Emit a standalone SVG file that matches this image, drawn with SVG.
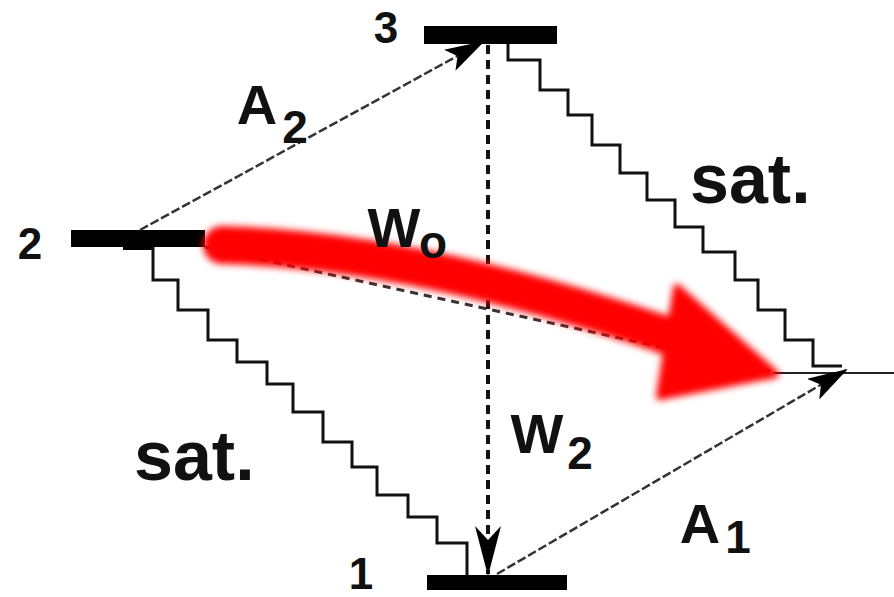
<svg xmlns="http://www.w3.org/2000/svg" width="894" height="597" viewBox="0 0 894 597">
<style>
.bar{fill:#000}
.lbl{font-family:"Liberation Sans",Arial,sans-serif;font-weight:bold;fill:#111;text-anchor:middle}
.big{font-size:56px}
.sub{font-size:46px}
.num{font-size:44px}
.sat{font-size:70px;text-anchor:start}
.stair{fill:none;stroke:#111;stroke-width:3;stroke-linejoin:miter}
.thin{fill:none;stroke:#333;stroke-width:2.5;stroke-dasharray:9 3}
.vdash{fill:none;stroke:#111;stroke-width:4;stroke-dasharray:9 6}
</style>
<defs>
<marker id="ah" viewBox="0 0 40 24" refX="38" refY="12" markerWidth="40" markerHeight="24" markerUnits="userSpaceOnUse" orient="auto">
<path d="M0,0 L40,12 L0,24 L9,12 z" fill="#000"/>
</marker>
<marker id="ahv" viewBox="0 0 50 26" refX="48" refY="13" markerWidth="50" markerHeight="26" markerUnits="userSpaceOnUse" orient="auto">
<path d="M0,0 L50,13 L0,26 L14,13 z" fill="#000"/>
</marker>
<filter id="soft" x="-10%" y="-30%" width="120%" height="160%">
<feGaussianBlur stdDeviation="3.5"/>
</filter>
</defs>
<rect width="894" height="597" fill="#fff"/>

<g id="level3">
<rect class="bar" x="424" y="26" width="133" height="18"/>
<text class="lbl num" x="386" y="43">3</text>
</g>
<g id="level2">
<rect class="bar" x="71" y="230" width="134" height="17"/>
<rect class="bar" x="123" y="233" width="30" height="17"/>
<text class="lbl num" x="30" y="259">2</text>
</g>
<g id="level1">
<rect class="bar" x="427" y="575" width="140" height="15"/>
<text class="lbl num" x="361" y="589">1</text>
</g>
<g id="level-ground">
<line x1="773" y1="373" x2="894" y2="373" stroke="#222" stroke-width="2"/>
</g>

<g id="connectors">
<path class="stair" d="M153,247 V280 H178 V310 H208 V340 H237 V362 H267 V384 H293 V412 H323 V442 H352 V467 H377 V495 H408 V517 H437 V543 H467 V576"/>
<path class="stair" d="M508,44 V60 H540 V90 H568 V115 H592 V145 H620 V173 H647 V200 H675 V227 H703 V252 H735 V280 H758 V310 H785 V340 H813 V366 H842"/>
<line class="thin" x1="140" y1="230" x2="483" y2="42" marker-end="url(#ah)"/>
<line class="thin" x1="497" y1="574" x2="846" y2="370" marker-end="url(#ah)"/>
<line class="vdash" x1="488" y1="45" x2="488" y2="574" marker-end="url(#ahv)"/>
<line x1="205" y1="247" x2="770" y2="371" stroke="#333" stroke-width="3" stroke-dasharray="8 6"/>
</g>

<g id="red-arrow" filter="url(#soft)">
<path d="M222,245 Q420,250 680,340" fill="none" stroke="#ff0000" stroke-width="38" stroke-linecap="round"/>
<path d="M677,288 L775,374 L660,396 Z" fill="#ff0000" stroke="#ff0000" stroke-width="8" stroke-linejoin="round"/>
</g>

<g id="labels">
<text class="lbl big" x="257" y="124">A</text>
<text class="lbl sub" x="295" y="143">2</text>
<text class="lbl big" x="394" y="247">W</text>
<text class="lbl sub" x="433" y="258">o</text>
<text class="lbl big" x="537" y="453">W</text>
<text class="lbl sub" x="580" y="469">2</text>
<text class="lbl big" x="700" y="543">A</text>
<text class="lbl sub" x="738" y="553">1</text>
<text class="lbl sat" x="690" y="203">sat.</text>
<text class="lbl sat" x="134" y="480">sat.</text>
</g>
</svg>
